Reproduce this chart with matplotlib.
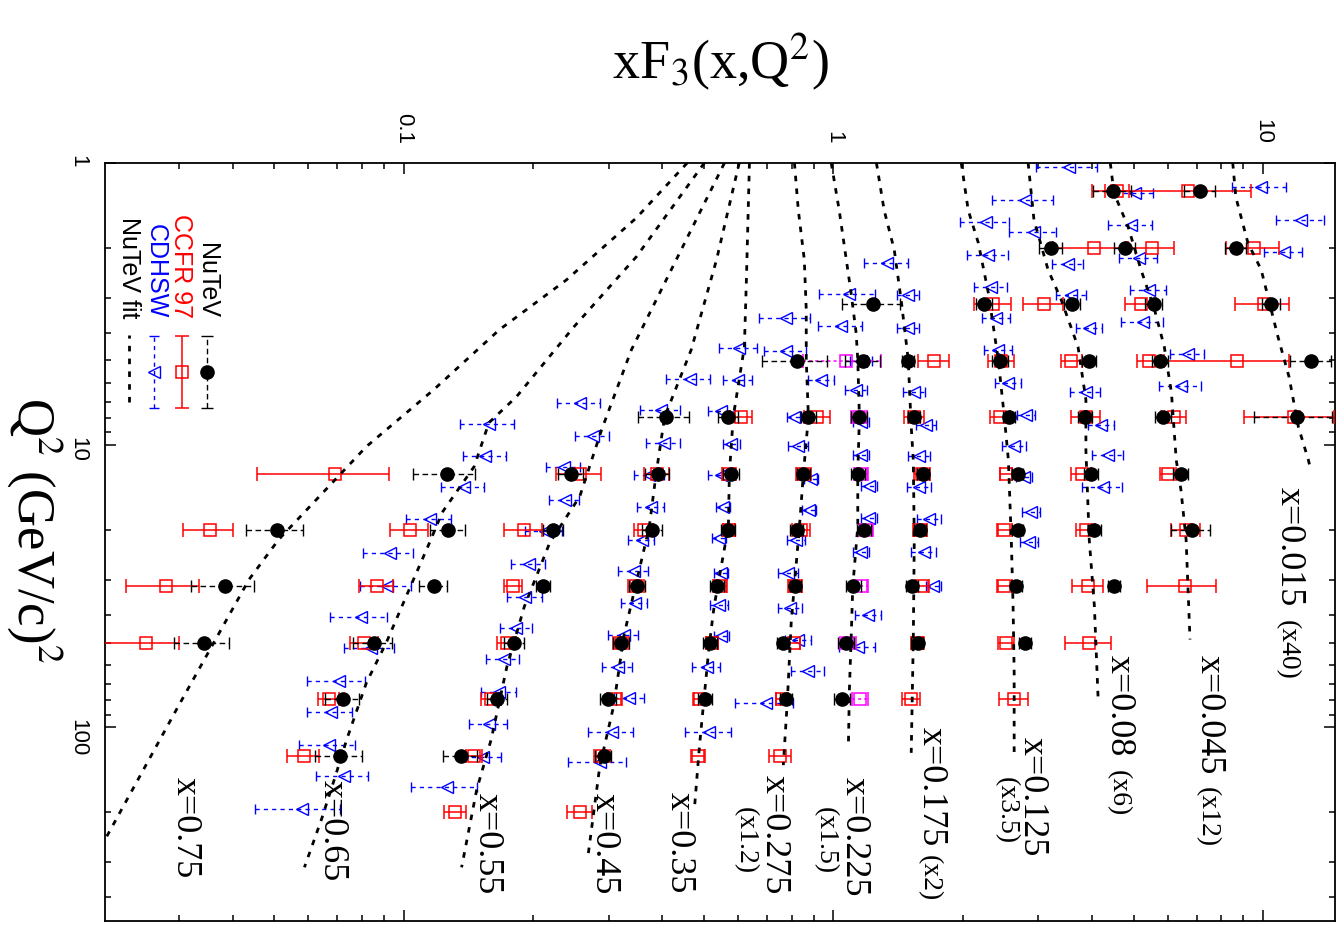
import numpy as np
import matplotlib.pyplot as plt
from matplotlib import ticker

plt.rcParams['font.family'] = ['Liberation Sans', 'DejaVu Sans']
plt.rcParams['mathtext.fontset'] = 'stix'

# each point: (Q2, xF3, error); xF3 already multiplied by the bin scale factor
nutev_0015 = [(1.26, 7.13, 0.6), (2.0, 8.64, 0.5), (3.16, 10.43, 0.5), (5.01, 12.96, 1.4), (7.94, 12.0, 2.5)]
ccfr_0015 = [(1.26, 6.69, 2.7), (2.0, 9.54, 1.35), (3.16, 10.04, 1.45), (5.01, 8.69, 2.8), (7.94, 11.81, 2.8)]
cdhsw_0015 = [(1.22, 9.9, 1.43), (1.59, 12.28, 1.58), (2.07, 11.18, 1.14)]
fit_0015 = [(1.0, 8.5), (1.32, 8.64), (1.92, 9.22), (2.39, 9.9), (4.13, 10.83), (5.72, 11.49),
            (8.6, 12.08), (11.3, 12.75), (12.2, 12.9)]

nutev_0045 = [(1.26, 4.48, 0.45), (2.0, 4.77, 0.26), (3.16, 5.56, 0.25), (5.01, 5.77, 0.25),
              (7.94, 5.85, 0.25), (12.6, 6.44, 0.26), (20.0, 6.82, 0.7)]
ccfr_0045 = [(1.26, 4.58, 0.3), (2.0, 5.5, 0.7), (3.16, 5.2, 0.42), (5.01, 5.43, 0.35), (7.94, 6.2, 0.42),
             (12.6, 6.02, 0.25), (20.0, 6.62, 0.5), (31.6, 6.58, 1.2)]
cdhsw_0045 = [(1.28, 5.04, 0.51), (1.66, 4.93, 0.58), (2.17, 5.15, 0.52), (2.82, 5.43, 0.52),
              (3.65, 5.26, 0.59), (4.74, 6.69, 0.61), (6.16, 6.44, 0.72)]
fit_0045 = [(1.0, 4.41), (1.28, 4.5), (1.68, 4.85), (2.39, 5.2), (3.31, 5.59), (4.48, 5.89), (6.52, 6.12),
            (11.3, 6.28), (14.4, 6.44), (21.6, 6.62), (48.8, 6.76)]

nutev_008 = [(2.0, 3.21, 0.2), (3.16, 3.6, 0.15), (5.01, 3.94, 0.15), (7.94, 3.85, 0.14), (12.6, 3.98, 0.14),
             (20.0, 4.05, 0.14), (31.6, 4.5, 0.15)]
ccfr_008 = [(2.0, 4.05, 0.8), (3.16, 3.09, 0.33), (5.01, 3.58, 0.2), (7.94, 3.87, 0.3), (12.6, 3.78, 0.2),
            (20.0, 3.87, 0.2), (31.6, 3.92, 0.32), (50.1, 3.94, 0.48)]
cdhsw_008 = [(1.03, 3.54, 0.57), (1.35, 2.79, 0.45), (1.75, 2.93, 0.36), (2.28, 3.52, 0.30), (2.93, 3.58, 0.29),
             (3.84, 3.94, 0.27), (6.47, 3.87, 0.31), (8.46, 4.2, 0.29), (10.8, 4.36, 0.37), (14.1, 4.25, 0.45)]
fit_008 = [(1.0, 2.84), (1.59, 2.93), (2.39, 3.16), (3.05, 3.39), (4.48, 3.71), (6.9, 3.87), (10.4, 3.87),
           (21.6, 3.94), (37.2, 4.05), (77.7, 4.13)]

nutev_0125 = [(3.16, 2.245, 0.1), (5.01, 2.445, 0.1), (7.94, 2.565, 0.08), (12.6, 2.69, 0.08), (20.0, 2.69, 0.08),
              (31.6, 2.665, 0.08), (50.1, 2.79, 0.09)]
ccfr_0125 = [(3.16, 2.355, 0.23), (5.01, 2.46, 0.17), (7.94, 2.445, 0.13), (12.6, 2.525, 0.08), (20.0, 2.5, 0.1),
             (31.6, 2.5, 0.1), (50.1, 2.525, 0.11), (79.4, 2.635, 0.2)]
cdhsw_0125 = [(1.62, 2.27, 0.30), (2.12, 2.295, 0.25), (2.75, 2.33, 0.21), (3.54, 2.395, 0.18), (4.59, 2.42, 0.18),
              (6.01, 2.555, 0.18), (7.8, 2.81, 0.135), (10.1, 2.635, 0.17), (13.0, 2.78, 0.12),
              (17.2, 2.885, 0.14), (22.1, 2.855, 0.14)]
fit_0125 = [(1.0, 1.985), (1.47, 2.06), (1.92, 2.175), (2.89, 2.295), (4.98, 2.42), (7.94, 2.5), (11.3, 2.555),
            (21.6, 2.595), (37.2, 2.62), (63.9, 2.635), (125, 2.635)]

nutev_0175 = [(5.01, 1.494, 0.05), (7.94, 1.543, 0.05), (12.6, 1.618, 0.05), (20.0, 1.593, 0.05),
              (31.6, 1.526, 0.05), (50.1, 1.57, 0.05)]
ccfr_0175 = [(5.01, 1.717, 0.14), (7.94, 1.543, 0.08), (12.6, 1.61, 0.07), (20.0, 1.593, 0.06), (31.6, 1.61, 0.06),
             (50.1, 1.57, 0.05), (79.4, 1.518, 0.07)]
cdhsw_0175 = [(2.93, 1.494, 0.09), (3.84, 1.494, 0.09), (6.47, 1.543, 0.09), (8.46, 1.645, 0.09),
              (10.9, 1.585, 0.093), (14.1, 1.585, 0.1), (18.3, 1.673, 0.107), (23.8, 1.628, 0.11),
              (31.6, 1.71, 0.07)]
fit_0175 = [(1.0, 1.26), (1.47, 1.313), (2.03, 1.386), (3.05, 1.438), (4.98, 1.494), (8.6, 1.518),
            (11.3, 1.535), (21.6, 1.543), (48.8, 1.535), (123, 1.518)]

nutev_0225 = [(3.16, 1.239, 0.19), (5.01, 1.174, 0.11), (7.94, 1.149, 0.05), (12.6, 1.143, 0.045),
              (20.0, 1.181, 0.045), (31.6, 1.113, 0.045), (50.1, 1.072, 0.045), (79.4, 1.049, 0.045)]
ccfr_0225 = [(5.01, 1.072, 0.22), (7.94, 1.149, 0.05), (12.6, 1.162, 0.045), (20.0, 1.193, 0.045),
             (31.6, 1.162, 0.045), (50.1, 1.084, 0.045), (79.4, 1.155, 0.05)]
cdhsw_0225 = [(2.26, 1.336, 0.16), (2.91, 1.09, 0.163), (3.78, 1.044, 0.123), (5.01, 1.162, 0.07),
              (6.36, 1.131, 0.067), (8.3, 1.162, 0.05), (10.8, 1.162, 0.05), (14.0, 1.213, 0.052),
              (18.1, 1.213, 0.052), (23.8, 1.162, 0.05), (40.1, 1.206, 0.084), (51.7, 1.143, 0.11)]
fit_0225 = [(1.0, 0.989), (1.47, 1.032), (2.89, 1.10), (4.0, 1.13), (4.98, 1.14), (7.94, 1.15), (12.6, 1.14),
            (19.4, 1.14), (31.6, 1.11), (48.8, 1.10), (73.4, 1.09), (117, 1.084)]

nutev_0275 = [(5.01, 0.825, 0.142), (7.94, 0.875, 0.035), (12.6, 0.852, 0.03), (20.0, 0.821, 0.028),
              (31.6, 0.816, 0.025), (50.1, 0.765, 0.025), (79.4, 0.777, 0.025)]
ccfr_0275 = [(7.94, 0.918, 0.064), (12.6, 0.852, 0.034), (20.0, 0.843, 0.04), (31.6, 0.816, 0.03),
             (50.1, 0.812, 0.025), (79.4, 0.761, 0.025), (126, 0.753, 0.046)]
cdhsw_0275 = [(3.54, 0.777, 0.104), (4.63, 0.777, 0.087), (5.86, 0.938, 0.065), (7.94, 0.812, 0.03),
              (10.05, 0.829, 0.044), (13.2, 0.889, 0.033), (16.9, 0.879, 0.033), (21.6, 0.82, 0.04),
              (28.3, 0.786, 0.042), (37.6, 0.794, 0.051), (48.8, 0.829, 0.058), (63.2, 0.875, 0.077),
              (81.6, 0.699, 0.107)]
fit_0275 = [(1.0, 0.812), (1.47, 0.829), (2.2, 0.856), (3.31, 0.865), (4.98, 0.865), (7.94, 0.875),
            (12.6, 0.852), (19.4, 0.834), (42.5, 0.798), (79.6, 0.782), (136, 0.765)]

nutev_035 = [(7.94, 0.57, 0.031), (12.6, 0.579, 0.025), (20.0, 0.57, 0.021), (31.6, 0.537, 0.02),
             (50.1, 0.517, 0.019), (79.4, 0.504, 0.019)]
ccfr_035 = [(7.94, 0.611, 0.036), (12.6, 0.573, 0.021), (20.0, 0.573, 0.018), (31.6, 0.546, 0.02),
            (50.1, 0.523, 0.017), (79.4, 0.488, 0.013), (126, 0.485, 0.018)]
cdhsw_035 = [(4.52, 0.604, 0.0615), (5.86, 0.601, 0.047), (7.55, 0.549, 0.037), (9.88, 0.579, 0.026),
             (12.8, 0.549, 0.038), (16.6, 0.555, 0.021), (21.3, 0.543, 0.02), (28.3, 0.549, 0.021),
             (36.7, 0.543, 0.026), (47.6, 0.549, 0.022), (61.3, 0.507, 0.038), (104, 0.515, 0.063)]
fit_035 = [(1.0, 0.638), (2.53, 0.628), (4.48, 0.621), (7.94, 0.585), (12.6, 0.573), (19.4, 0.570),
           (37.2, 0.528), (51.7, 0.514), (79.6, 0.500), (117, 0.488), (195, 0.475)]

nutev_045 = [(7.94, 0.407, 0.0556), (12.6, 0.39, 0.025), (20.0, 0.379, 0.02), (31.6, 0.35, 0.015),
             (50.1, 0.321, 0.014), (79.4, 0.2997, 0.013), (126, 0.292, 0.0125)]
ccfr_045 = [(12.6, 0.388, 0.026), (20.0, 0.362, 0.019), (31.6, 0.348, 0.015), (50.1, 0.321, 0.014),
            (79.4, 0.31, 0.013), (126, 0.29, 0.012), (200, 0.257, 0.017)]
cdhsw_045 = [(5.82, 0.463, 0.0545), (7.48, 0.398, 0.0426), (9.8, 0.403, 0.0367), (12.7, 0.373, 0.03),
             (16.5, 0.377, 0.027), (21.6, 0.358, 0.025), (28.0, 0.343, 0.028), (36.1, 0.345, 0.024),
             (47.2, 0.325, 0.026), (61.3, 0.315, 0.025), (78.9, 0.335, 0.027), (104, 0.305, 0.036),
             (133, 0.286, 0.044)]
fit_045 = [(1.0, 0.604), (2.2, 0.535), (4.59, 0.467), (7.94, 0.405), (12.6, 0.387), (19.5, 0.373),
           (46.9, 0.326), (84.3, 0.308), (138, 0.286), (281, 0.269)]

nutev_055 = [(12.6, 0.245, 0.016), (20.0, 0.223, 0.012), (31.6, 0.211, 0.008), (50.1, 0.181, 0.0097),
             (79.4, 0.165, 0.0089), (126, 0.136, 0.0124)]
ccfr_055 = [(12.6, 0.257, 0.031), (20.0, 0.191, 0.0194), (31.6, 0.18, 0.0087), (50.1, 0.174, 0.0089),
            (79.4, 0.16, 0.0086), (126, 0.146, 0.0059), (200, 0.132, 0.0081)]
cdhsw_055 = [(7.07, 0.257, 0.0289), (9.25, 0.276, 0.0251), (11.9, 0.236, 0.0215), (15.6, 0.237, 0.019),
             (20.2, 0.213, 0.0211), (26.3, 0.196, 0.0178), (34.4, 0.192, 0.0175), (44.3, 0.183, 0.0157),
             (57.4, 0.171, 0.0151), (74.6, 0.167, 0.0152), (97.6, 0.158, 0.0157), (127, 0.153, 0.0156),
             (163, 0.126, 0.0219)]
fit_055 = [(1.0, 0.558), (4.59, 0.339), (8.81, 0.289), (15.2, 0.257), (22.1, 0.219), (37.3, 0.191),
           (60.8, 0.174), (110, 0.160), (166, 0.148), (313, 0.1365)]

nutev_065 = [(12.6, 0.126, 0.021), (20.0, 0.127, 0.012), (31.6, 0.1175, 0.009), (50.1, 0.0852, 0.009),
             (79.4, 0.0722, 0.0064), (126, 0.0711, 0.009)]
ccfr_065 = [(20.0, 0.1034, 0.0103), (31.6, 0.0866, 0.0077), (50.1, 0.081, 0.006), (79.4, 0.067, 0.0039),
            (126, 0.0586, 0.005)]
cdhsw_065 = [(8.39, 0.158, 0.0224), (10.9, 0.155, 0.0178), (14.1, 0.138, 0.0159), (18.3, 0.115, 0.0139),
             (24.0, 0.0928, 0.0124), (31.6, 0.0915, 0.0123), (40.5, 0.0795, 0.0119), (52.1, 0.0839, 0.0112),
             (68.2, 0.0706, 0.0109), (88.5, 0.0677, 0.0082), (115, 0.067, 0.0099), (149, 0.0726, 0.0101),
             (194, 0.0581, 0.0129)]
fit_065 = [(1.0, 0.501), (2.15, 0.348), (3.81, 0.249), (6.74, 0.183), (8.32, 0.158), (11.9, 0.146),
           (17.3, 0.123), (22.1, 0.115), (32.5, 0.103), (50.0, 0.0912), (69.3, 0.082), (110, 0.0738),
           (153, 0.069), (212, 0.0644), (313, 0.0588)]

nutev_075 = [(20.0, 0.0507, 0.0078), (31.6, 0.0384, 0.0064), (50.1, 0.0343, 0.005)]
ccfr_075 = [(12.6, 0.0691, 0.0235), (20.0, 0.0354, 0.0048), (31.6, 0.028, 0.0054), (50.1, 0.0251, 0.005)]
cdhsw_075 = []
fit_075 = [(1.0, 0.457), (1.566, 0.348), (2.6, 0.239), (3.9, 0.167), (6.36, 0.1175), (10.1, 0.082),
           (21.6, 0.0512), (29.9, 0.0437), (85.0, 0.0298), (243, 0.0204)]

# nutev, ccfr, cdhsw, fit, ccfr colour
bins = [
    (nutev_0015, ccfr_0015, cdhsw_0015, fit_0015, 'red'),
    (nutev_0045, ccfr_0045, cdhsw_0045, fit_0045, 'red'),
    (nutev_008, ccfr_008, cdhsw_008, fit_008, 'red'),
    (nutev_0125, ccfr_0125, cdhsw_0125, fit_0125, 'red'),
    (nutev_0175, ccfr_0175, cdhsw_0175, fit_0175, 'red'),
    (nutev_0225, ccfr_0225, cdhsw_0225, fit_0225, 'magenta'),
    (nutev_0275, ccfr_0275, cdhsw_0275, fit_0275, 'red'),
    (nutev_035, ccfr_035, cdhsw_035, fit_035, 'red'),
    (nutev_045, ccfr_045, cdhsw_045, fit_045, 'red'),
    (nutev_055, ccfr_055, cdhsw_055, fit_055, 'red'),
    (nutev_065, ccfr_065, cdhsw_065, fit_065, 'red'),
    (nutev_075, ccfr_075, cdhsw_075, fit_075, 'red'),
]

# bin labels: main text, scale text, positions in axes fraction
bin_labels = [
    ('x=0.015', (0.956, 0.573), '(x40)', (0.956, 0.397)),
    ('x=0.045', (0.891, 0.351), '(x12)', (0.891, 0.177)),
    ('x=0.08', (0.818, 0.351), '(x6)', (0.818, 0.199)),
    ('x=0.125', (0.747, 0.243), '(x3.5)', (0.727, 0.190)),
    ('x=0.175', (0.665, 0.256), '(x2)', (0.665, 0.087)),
    ('x=0.225', (0.602, 0.190), '(x1.5)', (0.580, 0.150)),
    ('x=0.275', (0.537, 0.193), '(x1.2)', (0.515, 0.150)),
    ('x=0.35', (0.460, 0.170), None, None),
    ('x=0.45', (0.399, 0.169), None, None),
    ('x=0.55', (0.304, 0.169), None, None),
    ('x=0.65', (0.178, 0.186), None, None),
    ('x=0.75', (0.058, 0.190), None, None),
]

fig = plt.figure(figsize=(13.4, 9.31), dpi=100)
ax = fig.add_axes([105 / 1340, 10 / 931, 1230 / 1340, 758 / 931])

for nutev, ccfr, cdhsw, fit, ccol in bins:
    if cdhsw:
        q, f, e = np.array(cdhsw).T
        eb = ax.errorbar(f, q, xerr=e, fmt='<', ms=8.5, mfc='none', mec='blue', mew=1.0,
                         ecolor='blue', elinewidth=1.0, capsize=3.5, capthick=1.0, zorder=2)
        eb[2][0].set_linestyle((0, (3, 3)))
    q, f, e = np.array(ccfr).T
    eb = ax.errorbar(f, q, xerr=e, fmt='s', ms=9, mfc='none', mec=ccol, mew=1.1,
                     ecolor=ccol, elinewidth=1.1, capsize=5, capthick=1.1, zorder=3)
    if ccol == 'magenta':
        eb[2][0].set_linestyle((0, (2, 2)))
    q, f, e = np.array(nutev).T
    eb = ax.errorbar(f, q, xerr=e, fmt='o', ms=9.5, color='black',
                     ecolor='black', elinewidth=1.0, capsize=4, capthick=1.0, zorder=4)
    eb[2][0].set_linestyle((0, (4, 2.5)))
    q, f = np.array(fit).T
    ax.plot(f, q, color='black', lw=2.0, ls=(0, (2, 2.6)), zorder=5)

ax.set_xscale('log')
ax.set_yscale('log')
ax.set_xlim(0.0202, 14.7)
ax.set_ylim(485, 1)

fmt = ticker.FuncFormatter(lambda v, _: f'{v:g}')
ax.xaxis.set_major_locator(ticker.FixedLocator([0.1, 1, 10]))
ax.xaxis.set_minor_locator(ticker.LogLocator(base=10, subs=np.arange(2, 10), numticks=20))
ax.xaxis.set_major_formatter(fmt)
ax.xaxis.set_minor_formatter(ticker.NullFormatter())
ax.yaxis.set_major_locator(ticker.FixedLocator([1, 10, 100]))
ax.yaxis.set_minor_locator(ticker.LogLocator(base=10, subs=np.arange(2, 10), numticks=20))
ax.yaxis.set_major_formatter(fmt)
ax.yaxis.set_minor_formatter(ticker.NullFormatter())

ax.xaxis.set_ticks_position('both')
ax.yaxis.set_ticks_position('both')
ax.tick_params(which='both', direction='in', width=1.1, labelbottom=False, labeltop=True,
               labelleft=True, labelright=False, labelsize=16, labelrotation=-90)
ax.tick_params(which='major', length=8)
ax.tick_params(which='minor', length=4.3)
ax.tick_params(axis='x', pad=14)
ax.tick_params(axis='y', pad=12)
for sp in ax.spines.values():
    sp.set_linewidth(1.3)

# legend, drawn as columns to match the rotated page
leg_y, leg_err, leg_text_y = 0.7243, 0.048, 0.7955
eb = ax.errorbar([0.0829], [leg_y], yerr=[leg_err], fmt='o', ms=9.5, color='black', elinewidth=1.0,
                 capsize=4, capthick=1.0, transform=ax.transAxes)
eb[2][0].set_linestyle((0, (4, 2.5)))
ax.errorbar([0.0626], [leg_y], yerr=[leg_err], fmt='s', ms=9, mfc='none', mec='red', mew=1.1,
            ecolor='red', elinewidth=1.1, capsize=5, capthick=1.1, transform=ax.transAxes)
eb = ax.errorbar([0.0398], [leg_y], yerr=[leg_err], fmt='<', ms=8.5, mfc='none', mec='blue', mew=1.0,
                 ecolor='blue', elinewidth=1.0, capsize=3.5, capthick=1.0, transform=ax.transAxes)
eb[2][0].set_linestyle((0, (3, 3)))
ax.plot([0.0195, 0.0195], [0.6847, 0.7731], color='black', lw=2.0, ls=(0, (2, 2.6)),
        transform=ax.transAxes)
for xt, txt, col in [(0.0829, 'NuTeV', 'black'), (0.0618, 'CCFR 97', 'red'),
                     (0.0415, 'CDHSW', 'blue'), (0.0195, 'NuTeV fit', 'black')]:
    ax.text(xt, leg_text_y, txt, color=col, fontsize=18, rotation=-90, rotation_mode='anchor',
            ha='right', va='center', transform=ax.transAxes)

for main, pos, scale, spos in bin_labels:
    ax.text(pos[0], pos[1], main, fontsize=26, family='Liberation Serif', rotation=-90,
            rotation_mode='anchor', ha='left', va='baseline', transform=ax.transAxes)
    if scale:
        ax.text(spos[0], spos[1], scale, fontsize=20, family='Liberation Serif', rotation=-90,
                rotation_mode='anchor', ha='left', va='baseline', transform=ax.transAxes)

fig.text(720 / 1340, 1 - 62 / 931, r'xF$_3$(x,Q$^2$)', fontsize=39, family='Liberation Serif',
         ha='center', va='center')
fig.text(35 / 1340, 1 - 530 / 931, r'Q$^2$ (GeV/c)$^2$', fontsize=38, family='Liberation Serif',
         rotation=-90, ha='center', va='center')

fig.savefig('out.png', dpi=100)
